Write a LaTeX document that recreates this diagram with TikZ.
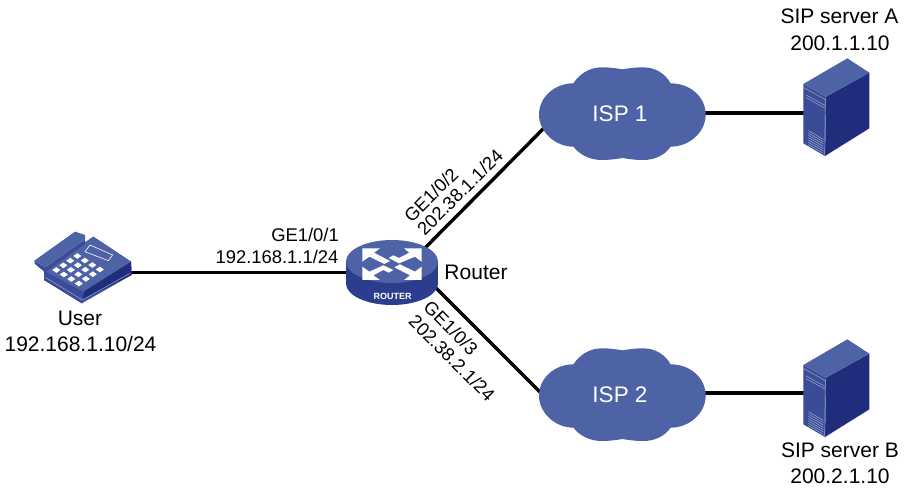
\documentclass[tikz,border=0pt]{standalone}
\usepackage{fontspec}
\setmainfont{Liberation Sans}
\definecolor{faceblue}{HTML}{4E62A6}
\definecolor{midblue}{HTML}{3A4C97}
\definecolor{sideblue}{HTML}{2C3D8E}
\definecolor{darkblue}{HTML}{1F2D7C}
\tikzset{
  link/.style={line width=3.4pt,black},
  lbl/.style={font=\fontsize{21}{24}\selectfont,inner sep=0pt,anchor=base},
  portlbl/.style={font=\fontsize{18.4}{22}\selectfont,inner sep=0pt},
  anchorbox/.style={inner sep=0pt,minimum width=#1,minimum height=#1},
  cloudlabel/.style={font=\fontsize{22.5}{26}\selectfont,text=white,inner sep=0pt},
  facefill/.style={fill=faceblue,draw=none},
  midfill/.style={fill=midblue,draw=none},
  sidefill/.style={fill=sideblue,draw=none},
  darkfill/.style={fill=darkblue,draw=none},
  whitefill/.style={fill=white,draw=none},
  thinlight/.style={draw=faceblue!55!white,line width=.5pt},
}
\newcommand{\cloudshape}[2]{%
 \begin{scope}[shift={(#1,#2)},scale=1/3]
  \fill[faceblue] (130,70) .. controls (150,40) and (180,22) .. (215,22)
    .. controls (240,22) and (260,25) .. (277,28)
    .. controls (295,25) and (315,22) .. (340,22)
    .. controls (375,22) and (405,40) .. (422,70)
    .. controls (480,70) and (527,110) .. (527,164)
    .. controls (527,215) and (480,260) .. (422,260)
    .. controls (405,285) and (375,300) .. (340,300)
    .. controls (315,300) and (295,297) .. (277,294)
    .. controls (260,297) and (240,300) .. (215,300)
    .. controls (180,300) and (150,285) .. (130,260)
    .. controls (75,260) and (27,215) .. (27,164)
    .. controls (27,110) and (75,70) .. (130,70) -- cycle;
 \end{scope}}
\newcommand{\servershape}[2]{%
 \begin{scope}[shift={(#1,#2)},scale=1/3]
  \fill[darkfill] (108,140) -- (238,68) -- (238,235) -- (105,318) -- cycle;
  \fill[midfill] (40,102) -- (108,140) -- (105,318) -- (40,280) -- cycle;
  \fill[facefill] (40,102) -- (172,25) -- (238,68) -- (108,140) -- cycle;
  \draw[thinlight] (40,112) -- (108,150);
  \draw[thinlight] (48,135) -- (106,167) (48,143) -- (106,175);
  \draw[thinlight] (106,145) -- (104,316);
  \foreach \k in {0,...,6} {\draw[thinlight] (55,{242+\k*7}) -- (100,{268+\k*7});}
 \end{scope}}
\begin{document}
\begin{tikzpicture}[x=1pt,y=-1pt]
\useasboundingbox (0,0) rectangle (904,494);
\node[anchorbox=80pt] (user) at (80,272.5) {};
\node[anchorbox=80pt] (router) at (392,272.5) {};
\node[anchorbox=60pt] (isp1) at (622,113) {};
\node[anchorbox=60pt] (isp2) at (622,393) {};
\node[anchorbox=40pt] (srvA) at (838,113) {};
\node[anchorbox=40pt] (srvB) at (838,393) {};
\coordinate (routerNE) at (418,255);
\coordinate (routerSE) at (425,277);
\coordinate (isp1W) at (550,122);
\coordinate (isp2W) at (550,402);
\draw[link] (user.center) -- (router.center);
\draw[link] (routerNE) -- (isp1W);
\draw[link] (routerSE) -- (isp2W);
\draw[link] (isp1.center) -- (srvA.center);
\draw[link] (isp2.center) -- (srvB.center);
% clouds
\cloudshape{530}{60}
\cloudshape{530}{341}
\node[cloudlabel] at (620,113.5) {ISP 1};
\node[cloudlabel] at (620,394.5) {ISP 2};
% servers
\servershape{790}{50}
\servershape{790}{331}
% phone
\begin{scope}[shift={(30,220)},scale=1/3]
 \fill[midfill] (42,150) -- (42,180) -- (155,250) -- (305,165) -- (303,125) -- (190,50) -- cycle;
 \fill[darkfill] (165,205) -- (303,125) -- (305,165) -- (158,238) -- cycle;
 \fill[midfill] (42,165) -- (158,232) -- (158,250) -- (42,180) -- cycle;
 \draw[thinlight] (46,172) -- (157,240) -- (300,160);
 \fill[facefill] (48,155) -- (190,50) -- (303,125) -- (160,215) -- cycle;
 \fill[midfill] (13,122) -- (45,142) -- (165,58) -- (165,72) -- (45,157) -- (15,132) -- cycle;
 \fill[facefill] (13,122) -- (135,35) -- (165,45) -- (165,58) -- (45,142) -- cycle;
 \draw[white,line width=.6pt] (180,75) -- (248,105) -- (235,122) -- (165,95) -- cycle;
 \foreach \r in {0,1,2,3} \foreach \c in {0,1,2,3} {
   \fill[white] ({142+\c*22.5-\r*21},{108+\c*13.5+\r*14}) ++(-12,0) -- ++(12,-8.5) -- ++(12,8.5) -- ++(-12,8.5) -- cycle;
 }
\end{scope}
% router
\fill[sideblue] (346,261.5) rectangle (438,283.5);
\fill[sideblue] (392,283.5) ellipse [x radius=46,y radius=21.5];
\fill[facefill] (392,261.5) ellipse [x radius=46,y radius=21.5];
\node[font=\bfseries\fontsize{9}{9}\selectfont,text=white,inner sep=0pt] (routertext) at (392.5,296) {ROUTER};
\begin{scope}[shift={(330,230)},scale=1/3]
 \fill[whitefill] (97,55) -- (150,55) -- (132,68) -- (180,93) -- (163,102) -- (118,80) -- (97,95) -- cycle;
 \fill[whitefill] (275,55) -- (222,55) -- (238,68) -- (207,84) -- (190,76) -- (176,84) -- (207,100) -- (255,80) -- (275,95) -- cycle;
 \fill[whitefill] (97,150) -- (150,150) -- (130,136) -- (160,120) -- (176,128) -- (190,120) -- (160,106) -- (118,125) -- (97,110) -- cycle;
 \fill[whitefill] (275,150) -- (222,150) -- (240,136) -- (193,112) -- (210,103) -- (255,125) -- (275,110) -- cycle;
\end{scope}
% labels
\node[lbl] (userA) at (80,325) {User};
\node[lbl] (userB) at (80.5,351) {192.168.1.10/24};
\node[portlbl,anchor=base] (p1a) at (305,241) {GE1/0/1};
\node[portlbl,anchor=base] (p1b) at (277,263) {192.168.1.1/24};
\node[lbl] (routerlbl) at (476,279) {Router};
\node[portlbl,rotate=45] (p2a) at (431,195) {GE1/0/2};
\node[portlbl,rotate=45] (p2b) at (460,192) {202.38.1.1/24};
\node[portlbl,rotate=-45] (p3a) at (451,328) {GE1/0/3};
\node[portlbl,rotate=-45] (p3b) at (452,358) {202.38.2.1/24};
\node[lbl] (sa1) at (839.5,24) {SIP server A};
\node[lbl] (sa2) at (840,51) {200.1.1.10};
\node[lbl] (sb1) at (840,457) {SIP server B};
\node[lbl] (sb2) at (840,483) {200.2.1.10};
\end{tikzpicture}
\end{document}
